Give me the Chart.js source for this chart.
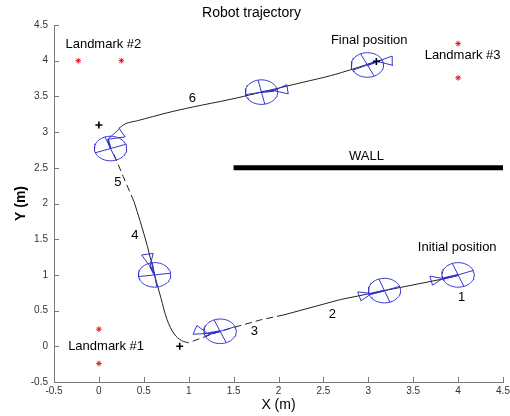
<!DOCTYPE html>
<html>
<head>
<meta charset="UTF-8">
<title>Robot trajectory</title>
<script src="https://cdn.jsdelivr.net/npm/chart.js"></script>
<style>
  body { margin: 0; background: #fff; }
  #wrap { width: 510px; height: 416px; }
</style>
</head>
<body>
<div id="wrap"><canvas id="myChart"></canvas></div>
<script>
// axis ticks
const xTickValues = [-0.5, 0, 0.5, 1, 1.5, 2, 2.5, 3, 3.5, 4, 4.5];
const yTickValues = [-0.5, 0, 0.5, 1, 1.5, 2, 2.5, 3, 3.5, 4, 4.5];

// landmarks (red stars)
const landmarkX = [0, 0, -0.23, 0.25, 4, 4];
const landmarkY = [0.24, -0.24, 4, 4, 4.24, 3.76];

// black + marks
const plusX = [0, 0.9, 3.09];
const plusY = [3.1, 0, 3.99];

// trajectory pieces (solid / dashed)
const seg1X = [4.0, 3.8, 3.18, 2.69, 2.06];
const seg1Y = [0.99, 0.935, 0.78, 0.655, 0.44];
const seg2X = [2.06, 1.8, 1.35, 1.15, 1.0];
const seg2Y = [0.44, 0.37, 0.21, 0.12, 0.05];
const seg3X = [1.0, 0.92, 0.84, 0.76, 0.69, 0.62, 0.54, 0.46, 0.39];
const seg3Y = [0.05, 0.08, 0.17, 0.37, 0.68, 1.0, 1.4, 1.75, 2.03];
const seg4X = [0.39, 0.27, 0.15];
const seg4Y = [2.03, 2.38, 2.74];
const seg5X = [0.22, 0.30, 0.43, 0.76, 1.04, 1.47, 1.745, 2.28, 2.58, 2.82, 3.09];
const seg5Y = [3.05, 3.12, 3.16, 3.27, 3.35, 3.46, 3.54, 3.70, 3.79, 3.88, 3.99];

// wall
const wallX = [1.5, 4.5];
const wallY = [2.5, 2.5];

// robot poses: uncertainty ellipse centre + axis angle (deg)
const ellX = [4.0, 3.18, 1.35, 0.62, 0.13, 1.81, 2.99];
const ellY = [1.0, 0.78, 0.21, 1.0, 2.77, 3.56, 3.94];
const ellAng = [21, 20, 22, 8, 20, 12, 25];

// sensor triangles: tip and base centre
const triTipX = [3.83, 3.04, 1.21, 0.57, 0.10, 1.95, 3.10];
const triTipY = [0.95, 0.74, 0.18, 1.12, 2.90, 3.58, 3.99];
const triBaseX = [3.70, 2.90, 1.07, 0.54, 0.26, 2.10, 3.27];
const triBaseY = [0.92, 0.70, 0.23, 1.29, 2.99, 3.60, 4.00];

// text notes
const noteText = ['Landmark #2', 'Final position', 'Landmark #3', 'Initial position', 'Landmark #1', 'WALL', '1', '2', '3', '4', '5', '6'];
const noteX = [0.05, 3.01, 4.05, 3.99, 0.08, 2.98, 4.04, 2.60, 1.73, 0.40, 0.21, 1.04];
const noteY = [4.23, 4.28, 4.07, 1.39, 0.0, 2.66, 0.69, 0.45, 0.21, 1.55, 2.29, 3.47];

const ELL_RX = 0.18;
const ELL_RY = 0.172;
const TRI_HALF = 0.065;
const FONT = "'Liberation Sans', Arial, sans-serif";
const BLUE = 'rgb(52,52,205)';

function pts(xs, ys) {
  return xs.map((x, i) => ({x: x, y: ys[i]}));
}

// outline plus two diameters for every pose, broken with nulls
let ellPts = [];
for (let i = 0; i < ellX.length; i++) {
  const cx = ellX[i], cy = ellY[i], a = ellAng[i] * Math.PI / 180;
  for (let k = 0; k <= 64; k++) {
    const t = k / 64 * 2 * Math.PI;
    ellPts.push({x: cx + ELL_RX * Math.cos(t), y: cy + ELL_RY * Math.sin(t)});
  }
  ellPts.push({x: cx, y: null});
  ellPts.push({x: cx - ELL_RX * Math.cos(a), y: cy - ELL_RY * Math.sin(a)});
  ellPts.push({x: cx + ELL_RX * Math.cos(a), y: cy + ELL_RY * Math.sin(a)});
  ellPts.push({x: cx, y: null});
  ellPts.push({x: cx + ELL_RX * Math.sin(a), y: cy - ELL_RY * Math.cos(a)});
  ellPts.push({x: cx - ELL_RX * Math.sin(a), y: cy + ELL_RY * Math.cos(a)});
  ellPts.push({x: cx, y: null});
}

let triPts = [];
let headPts = [];
for (let i = 0; i < triTipX.length; i++) {
  const dx = triBaseX[i] - triTipX[i], dy = triBaseY[i] - triTipY[i];
  const len = Math.sqrt(dx * dx + dy * dy);
  const nx = -dy / len * TRI_HALF, ny = dx / len * TRI_HALF;
  triPts.push({x: triBaseX[i] + nx, y: triBaseY[i] + ny});
  triPts.push({x: triTipX[i], y: triTipY[i]});
  triPts.push({x: triBaseX[i] - nx, y: triBaseY[i] - ny});
  triPts.push({x: triBaseX[i] + nx, y: triBaseY[i] + ny});
  triPts.push({x: triTipX[i], y: null});
  headPts.push({x: triTipX[i], y: triTipY[i]});
  headPts.push({x: ellX[i], y: ellY[i]});
  headPts.push({x: ellX[i], y: null});
}

function lineSet(data, color, width, dash, tension) {
  return {
    data: data, showLine: true, borderColor: color, borderWidth: width,
    borderDash: dash || [], pointRadius: 0, fill: false, spanGaps: false,
    tension: tension || 0
  };
}

const notesPlugin = {
  id: 'notes',
  afterDatasetsDraw(chart) {
    const ctx = chart.ctx;
    const xs = chart.scales.x, ys = chart.scales.y;
    ctx.save();
    ctx.fillStyle = '#000';
    ctx.font = '13px ' + FONT;
    ctx.textAlign = 'center';
    ctx.textBaseline = 'middle';
    for (let i = 0; i < noteText.length; i++) {
      ctx.fillText(noteText[i], xs.getPixelForValue(noteX[i]), ys.getPixelForValue(noteY[i]));
    }
    ctx.restore();
  }
};

// inward tick marks like the original
const innerTicks = {
  id: 'innerTicks',
  afterDraw(chart) {
    const ctx = chart.ctx;
    const xs = chart.scales.x, ys = chart.scales.y;
    const area = chart.chartArea;
    ctx.save();
    ctx.strokeStyle = '#7a7a7a';
    ctx.lineWidth = 1;
    ctx.beginPath();
    xTickValues.forEach(v => {
      const p = Math.round(xs.getPixelForValue(v)) + 0.5;
      ctx.moveTo(p, area.bottom);
      ctx.lineTo(p, area.bottom - 5);
    });
    yTickValues.forEach(v => {
      const p = Math.round(ys.getPixelForValue(v)) + 0.5;
      ctx.moveTo(area.left, p);
      ctx.lineTo(area.left + 5, p);
    });
    ctx.stroke();
    ctx.restore();
  }
};

const data = {
  datasets: [
    {
      data: pts(landmarkX, landmarkY), pointStyle: 'star', pointRadius: 2.8,
      borderColor: '#e8141e', borderWidth: 1, showLine: false
    },
    {
      data: pts(plusX, plusY), pointStyle: 'cross', pointRadius: 3.5,
      borderColor: '#000', borderWidth: 1.6, showLine: false
    },
    lineSet(headPts, BLUE, 2),
    lineSet(triPts, BLUE, 1),
    lineSet(ellPts, BLUE, 1),
    lineSet(pts(seg1X, seg1Y), '#222', 1),
    lineSet(pts(seg2X, seg2Y), '#222', 1, [7, 4]),
    lineSet(pts(seg3X, seg3Y), '#222', 1, null, 0.35),
    lineSet(pts(seg4X, seg4Y), '#222', 1, [7, 4]),
    lineSet(pts(seg5X, seg5Y), '#222', 1, null, 0.3),
    lineSet(pts(wallX, wallY), '#000', 5)
  ]
};

const tickFont = {family: FONT, size: 10};
const tickText = v => String(v);

const config = {
  type: 'scatter',
  data: data,
  plugins: [notesPlugin, innerTicks],
  options: {
    responsive: true,
    maintainAspectRatio: false,
    animation: false,
    layout: {padding: {left: 0, right: 7, top: 0, bottom: 0}},
    plugins: {
      legend: {display: false},
      tooltip: {enabled: false},
      title: {
        display: true,
        text: 'Robot trajectory',
        color: '#000',
        font: {family: FONT, size: 14, weight: 'normal'},
        padding: {top: 4.6, bottom: 3.6}
      }
    },
    scales: {
      x: {
        type: 'linear', min: -0.5, max: 4.5,
        afterBuildTicks: s => { s.ticks = xTickValues.map(v => ({value: v})); },
        afterFit: s => { s.height = 34; s.paddingRight = 4; s.paddingLeft = 4; },
        grid: {display: false, drawTicks: false},
        border: {display: true, color: '#7a7a7a', width: 1},
        ticks: {color: '#333', font: tickFont, padding: 3, maxRotation: 0, callback: tickText},
        title: {
          display: true, text: 'X (m)', color: '#000',
          font: {family: FONT, size: 14}, padding: {top: 0, bottom: 2}
        }
      },
      y: {
        type: 'linear', min: -0.5, max: 4.5,
        afterBuildTicks: s => { s.ticks = yTickValues.map(v => ({value: v})); },
        afterFit: s => { s.width = 54; },
        grid: {display: false, drawTicks: false},
        border: {display: true, color: '#7a7a7a', width: 1},
        ticks: {color: '#333', font: tickFont, padding: 6, callback: tickText},
        title: {
          display: true, text: 'Y (m)', color: '#000',
          font: {family: FONT, size: 14, weight: 'bold'}, padding: {top: 12.5, bottom: 0}
        }
      }
    }
  }
};

new Chart(document.getElementById('myChart'), config);
</script>
</body>
</html>
